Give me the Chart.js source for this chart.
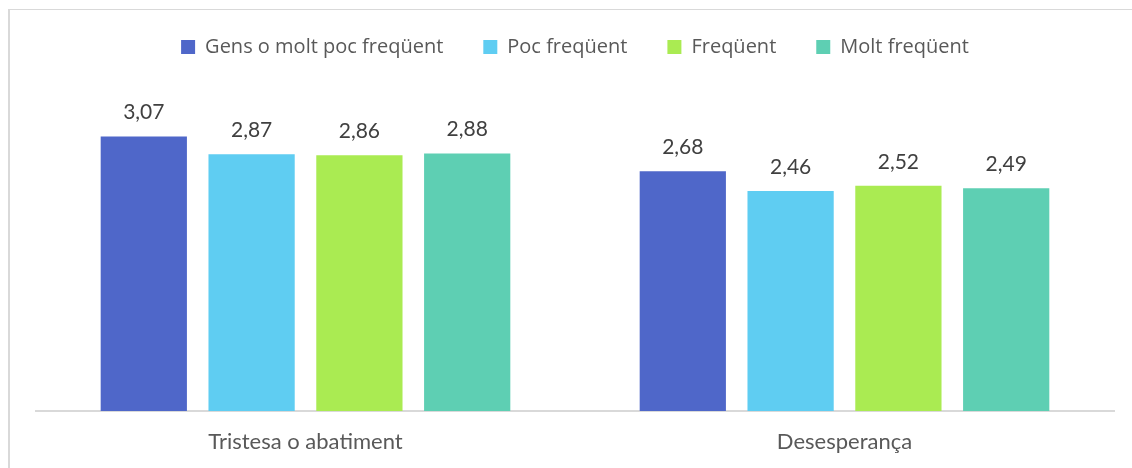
<!DOCTYPE html>
<html>
<head>
<meta charset="utf-8">
<script src="https://cdn.jsdelivr.net/npm/chart.js@4"></script>
<style>
  html, body { margin: 0; padding: 0; background: #fff; }
  #wrap { position: relative; width: 1132px; height: 468px; overflow: hidden; }
  #frame { position: absolute; left: 8px; top: 9px; width: 1200px; height: 600px;
           border-left: 2px solid #d9d9d9; border-top: 1px solid #d9d9d9; }
  canvas { position: absolute; left: 0; top: 0; }
</style>
</head>
<body>
<div id="wrap">
  <div id="frame"></div>
  <canvas id="chart" width="1132" height="468"></canvas>
</div>
<script>
const categories = ["Tristesa o abatiment", "Desesperança"];
const seriesNames = ["Gens o molt poc freqüent", "Poc freqüent", "Freqüent", "Molt freqüent"];
const seriesColors = ["#4F67C9", "#5FCDF2", "#AAEB52", "#5ECFB3"];
const gensValues = [3.07, 2.68];
const pocValues = [2.87, 2.46];
const freqValues = [2.86, 2.52];
const moltValues = [2.88, 2.49];
const allValues = [gensValues, pocValues, freqValues, moltValues];

// value labels above each bar, with a comma as decimal mark
const barLabels = {
    id: "barLabels",
    afterDatasetsDraw(chart) {
        const ctx = chart.ctx;
        ctx.save();
        ctx.font = "21px Lato";
        ctx.fillStyle = "#404040";
        ctx.textAlign = "center";
        ctx.textBaseline = "alphabetic";
        chart.data.datasets.forEach((ds, i) => {
            chart.getDatasetMeta(i).data.forEach((bar, j) => {
                const txt = ds.data[j].toFixed(2).replace(".", ",");
                ctx.fillText(txt, bar.x, bar.y - 17);
            });
        });
        ctx.restore();
    }
};

// extra room between the legend row and the bars
const legendGap = {
    id: "legendGap",
    beforeInit(chart) {
        const fit = chart.legend.fit;
        chart.legend.fit = function () {
            fit.call(this);
            this.height += 31;
        };
    }
};

new Chart(document.getElementById("chart").getContext("2d"), {
    type: "bar",
    data: {
        labels: categories,
        datasets: seriesNames.map((name, i) => ({
            label: name,
            data: allValues[i],
            backgroundColor: seriesColors[i],
            borderWidth: 0,
            barPercentage: 0.8,
            categoryPercentage: 0.8
        }))
    },
    options: {
        responsive: false,
        animation: false,
        layout: { padding: { left: 36, right: 18, top: -3, bottom: 0 } },
        scales: {
            x: {
                grid: { display: false, drawTicks: false },
                border: { color: "#d9d9d9", width: 2 },
                ticks: { color: "#595959", font: { family: "Lato", size: 22 }, padding: 18 },
                afterFit(scale) { scale.height = 57; }
            },
            y: {
                display: false,
                min: 0,
                max: 3.5
            }
        },
        plugins: {
            legend: {
                position: "top",
                labels: {
                    color: "#595959",
                    font: { family: "Open Sans", size: 20 },
                    boxWidth: 14,
                    boxHeight: 14,
                    padding: 40
                }
            },
            tooltip: { enabled: false }
        }
    },
    plugins: [barLabels, legendGap]
});
</script>
</body>
</html>
